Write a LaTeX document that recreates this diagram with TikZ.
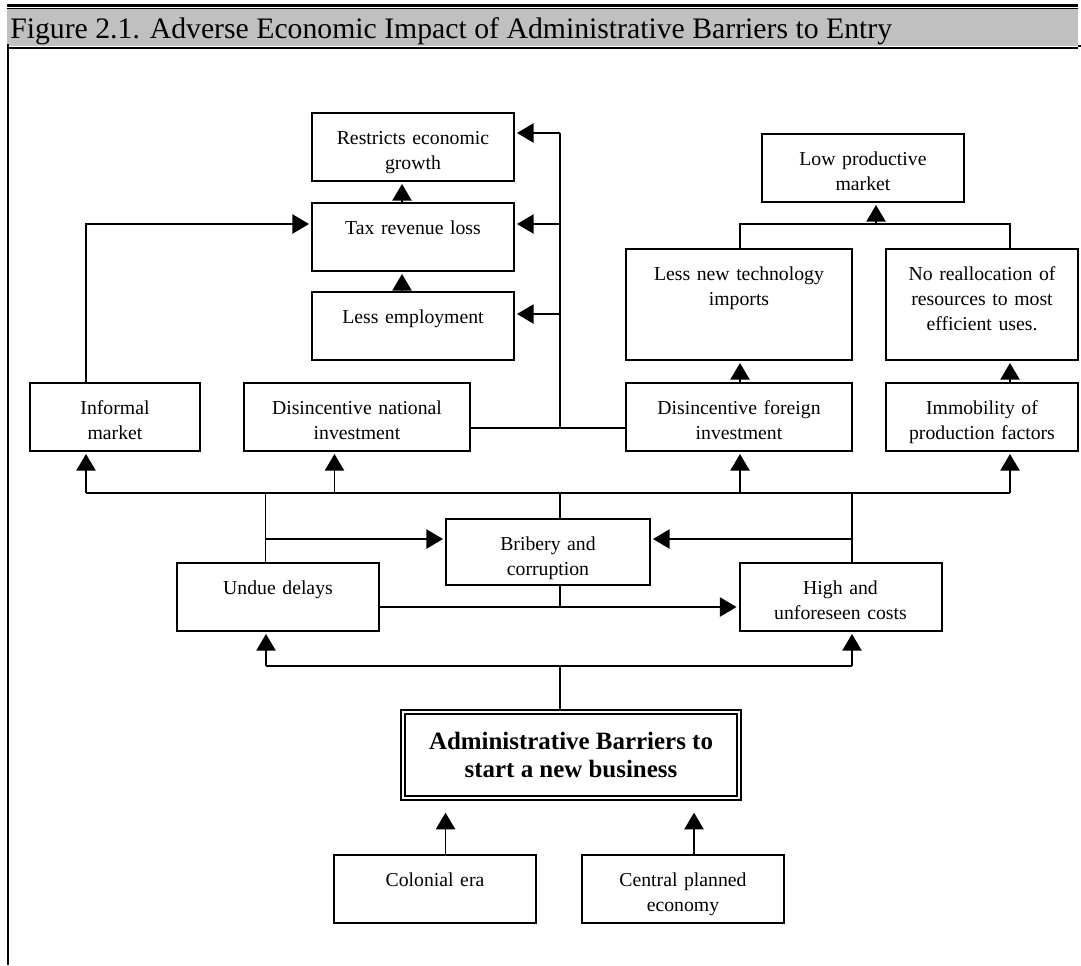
\documentclass[tikz,border=0pt]{standalone}
\usepackage{fontspec}
\setmainfont{Liberation Serif}
\usepackage{tikz}
\usetikzlibrary{arrows.meta}
\definecolor{band}{RGB}{192,192,192}
\newcommand{\boxfont}{\fontsize{14.8pt}{18.75pt}\selectfont}
\newcommand{\headfont}{\fontsize{22.3pt}{26pt}\selectfont}
\newcommand{\keyfont}{\bfseries\fontsize{18.7pt}{21.2pt}\selectfont}

\begin{document}
\begin{tikzpicture}[x=0.75pt, y=-0.75pt,
  cell/.style={draw, line width=1.5pt, anchor=north, align=center, inner sep=0pt,
    text width=151.5pt, text height=23.25pt, text depth=27.75pt, font=\boxfont},
  tall/.style={text depth=60pt},
  conn/.style={line width=1.1pt},
  arr/.style={conn, -{Triangle[length=12.5pt, width=14.5pt]}, shorten >=1.5pt}]
  \useasboundingbox (0,0) rectangle (1081,965);

  % title band
  \fill[band] (7,9) rectangle (1078,46);
  \draw[line width=2.25pt] (7,5) -- (1078,5);
  \draw[line width=0.9pt] (7,8.5) -- (1078,8.5);
  \draw[line width=1.5pt] (7,48) -- (1078,48);
  \draw[line width=1.5pt] (1078,45.5) -- (1081,45.5);
  \draw[line width=1.5pt] (7.7,44) -- (7.7,965);
  \node[anchor=base west, inner sep=0pt, font=\headfont] (title) at (10,38.5)
    {Figure 2.1. Adverse Economic Impact of Administrative Barriers to Entry};

  % effects
  \node[cell] (restricts) at (413,112) {Restricts economic\\growth};
  \node[cell] (tax) at (413,202) {Tax revenue loss};
  \node[cell] (employ) at (413,291) {Less employment};
  \node[cell, text width=127.5pt] (informal) at (115,382) {Informal\\market};
  \node[cell, text width=169.5pt] (national) at (357,382) {Disincentive national\\investment};
  \node[cell] (lowprod) at (863,133) {Low productive\\market};
  \node[cell, tall, text width=169.5pt] (tech) at (739,248) {Less new technology\\imports};
  \node[cell, tall, text width=144pt] (realloc) at (982,248) {No reallocation of\\resources to most\\efficient uses.};
  \node[cell, text width=169.5pt] (foreign) at (739,382) {Disincentive foreign\\investment};
  \node[cell, text width=144pt] (immob) at (982,382) {Immobility of\\production factors};

  % direct consequences
  \node[cell, text width=153pt, text depth=26.25pt] (bribery) at (548,518) {Bribery and\\corruption};
  \node[cell] (delays) at (278,562) {Undue delays};
  \node[cell] (costs) at (840.5,562) {High and\\unforeseen costs};

  % origin
  \node[draw, double, line width=1pt, double distance=2pt, inner sep=0pt, align=center,
    minimum width=252pt, minimum height=64.5pt, font=\keyfont] (admin) at (571,755)
    {Administrative Barriers to\\start a new business};
  \node[cell] (colonial) at (435,854) {Colonial era};
  \node[cell] (central) at (683,854) {Central planned\\economy};

  % junctions
  \coordinate (b1) at (86,493);
  \coordinate (b2) at (334.5,493);
  \coordinate (b3) at (740,493);
  \coordinate (b4) at (1010,493);
  \coordinate (d1) at (265.5,493);
  \coordinate (d2) at (560,493);
  \coordinate (d3) at (852,493);
  \coordinate (q1) at (265.5,539);
  \coordinate (q2) at (852,539);
  \coordinate (r) at (560,607);
  \coordinate (e0) at (560,666);
  \coordinate (e1) at (266,666);
  \coordinate (e2) at (852,666);
  \coordinate (jn) at (560,428);
  \coordinate (t1) at (560,133);
  \coordinate (t2) at (560,224);
  \coordinate (t3) at (560,314);
  \coordinate (m) at (402,0);
  \coordinate (lp) at (876,224);
  \coordinate (u1) at (445.5,0);
  \coordinate (u2) at (694,0);

  % upper part
  \draw[arr] (b1 |- informal.north) |- (t2 -| tax.west);
  \draw[arr] (m |- employ.north) -- (m |- tax.south);
  \draw[arr] (m |- tax.north) -- (m |- restricts.south);
  \draw[conn] (jn -| national.east) -- (jn -| foreign.west);
  \draw[conn] (jn) -- (t1);
  \foreach \t/\n in {t1/restricts, t2/tax, t3/employ}
    \draw[arr] (\t) -- (\t -| \n.east);
  \draw[arr] (b3 |- foreign.north) -- (b3 |- tech.south);
  \draw[arr] (b4 |- immob.north) -- (b4 |- realloc.south);
  \draw[conn] (b3 |- tech.north) |- (lp) -| (b4 |- realloc.north);
  \draw[arr] (lp) -- (lp |- lowprod.south);

  % middle part
  \draw[conn] (b1) -- (b4);
  \foreach \b/\n in {b1/informal, b2/national, b3/foreign, b4/immob}
    \draw[arr] (\b) -- (\b |- \n.south);
  \draw[conn] (d1) -- (d1 |- delays.north);
  \draw[conn] (d2) -- (d2 |- bribery.north);
  \draw[conn] (d3) -- (d3 |- costs.north);
  \draw[arr] (q1) -- (q1 -| bribery.west);
  \draw[arr] (q2) -- (q2 -| bribery.east);
  \draw[arr] (r -| delays.east) -- (r -| costs.west);
  \draw[conn] (d2 |- bribery.south) -- (r);

  % lower part
  \draw[conn] (e0) -- (e0 |- admin.north);
  \draw[conn] (e1) -- (e2);
  \draw[arr] (e1) -- (e1 |- delays.south);
  \draw[arr] (e2) -- (e2 |- costs.south);
  \draw[arr, shorten >=10.5pt] (u1 |- colonial.north) -- (u1 |- admin.south);
  \draw[arr, shorten >=10.5pt] (u2 |- central.north) -- (u2 |- admin.south);
\end{tikzpicture}
\end{document}
